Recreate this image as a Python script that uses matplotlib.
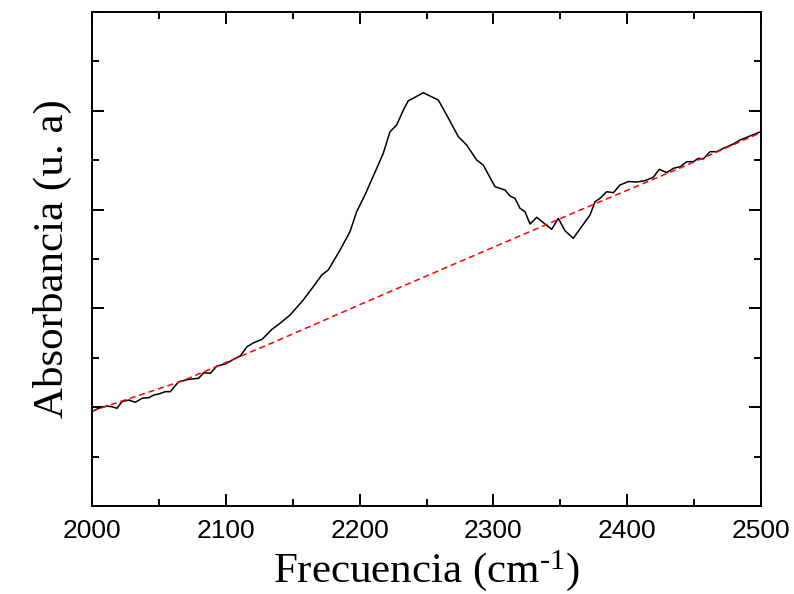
import numpy as np
import matplotlib
matplotlib.use('Agg')
import matplotlib.pyplot as plt
from matplotlib.ticker import MultipleLocator, NullFormatter

plt.rcParams['mathtext.fontset'] = 'custom'
plt.rcParams['mathtext.rm'] = 'Liberation Serif'
plt.rcParams['mathtext.default'] = 'regular'

# spectrum (x in cm-1, y in arbitrary units)
freq = [2000.0, 2005.0, 2011.2, 2014.9, 2018.7, 2022.4, 2027.4, 2032.4, 2037.4, 2042.4,
        2046.1, 2049.9, 2054.8, 2058.5, 2064.8, 2072.3, 2079.7, 2083.5, 2088.4, 2093.4,
        2099.6, 2107.1, 2110.8, 2115.8, 2120.9, 2127.1, 2134.5, 2140.5, 2148.0, 2157.9,
        2165.4, 2171.7, 2176.6, 2185.4, 2192.8, 2197.8, 2204.0, 2212.8, 2217.7, 2222.7,
        2227.7, 2232.7, 2236.4, 2240.1, 2247.6, 2252.6, 2258.8, 2265.1, 2273.8, 2280.0,
        2287.5, 2292.4, 2301.2, 2308.7, 2312.4, 2316.1, 2319.9, 2323.6, 2327.4, 2332.4,
        2338.6, 2343.6, 2348.5, 2353.5, 2359.7, 2372.2, 2376.0, 2379.7, 2384.7, 2389.7,
        2394.6, 2400.9, 2407.1, 2413.3, 2419.5, 2424.0, 2429.5, 2434.5, 2439.5, 2444.5,
        2449.4, 2453.2, 2456.9, 2461.9, 2466.9, 2471.8, 2479.3, 2484.3, 2491.8, 2496.8,
        2500.0]
absorb = [0.954, 0.989, 1.012, 1.005, 0.989, 1.056, 1.073, 1.050, 1.090, 1.096,
          1.123, 1.134, 1.157, 1.157, 1.258, 1.282, 1.293, 1.349, 1.343, 1.417,
          1.437, 1.495, 1.518, 1.612, 1.653, 1.687, 1.788, 1.849, 1.933, 2.085,
          2.220, 2.338, 2.389, 2.591, 2.776, 2.979, 3.148, 3.418, 3.570, 3.788,
          3.856, 4.008, 4.102, 4.127, 4.183, 4.150, 4.109, 3.957, 3.738, 3.654,
          3.502, 3.451, 3.232, 3.198, 3.138, 3.114, 3.013, 2.979, 2.854, 2.922,
          2.854, 2.801, 2.912, 2.786, 2.710, 2.945, 3.080, 3.114, 3.181, 3.171,
          3.249, 3.284, 3.279, 3.293, 3.327, 3.408, 3.374, 3.418, 3.434, 3.485,
          3.485, 3.519, 3.512, 3.586, 3.586, 3.620, 3.664, 3.704, 3.745, 3.772,
          3.789]

# baseline (red dashed)
base_x = [2000.0, 2067.3, 2134.5, 2215.2, 2290.0, 2368.5, 2439.5, 2500.0]
base_y = [0.962, 1.265, 1.650, 2.126, 2.561, 3.016, 3.421, 3.78]

fig = plt.figure(figsize=(7.94, 5.94), dpi=100)
ax = fig.add_axes([92/794, 88/594, 669/794, 494/594])

ax.plot(freq, absorb, color='black', linewidth=1.1)
ax.plot(base_x, base_y, color='red', linewidth=1.1, dashes=(4, 2.5))

ax.set_xlim(2000, 2500)
ax.set_ylim(0, 5)
ax.xaxis.set_major_locator(MultipleLocator(100))
ax.xaxis.set_minor_locator(MultipleLocator(50))
ax.yaxis.set_major_locator(MultipleLocator(1))
ax.yaxis.set_minor_locator(MultipleLocator(0.5))
ax.yaxis.set_major_formatter(NullFormatter())

for s in ax.spines.values():
    s.set_linewidth(1.4)
ax.tick_params(which='both', direction='in', top=True, right=True, width=1.4)
ax.tick_params(which='major', length=8.5)
ax.tick_params(which='minor', length=5)
ax.tick_params(axis='x', which='major', pad=9, labelsize=19)
for lab in ax.get_xticklabels():
    lab.set_family('Liberation Sans')

ax.set_xlabel('Frecuencia (cm$^{\\text{-1}}$)', family='Liberation Serif', fontsize=31, labelpad=4)
ax.set_ylabel('Absorbancia (u. a)', family='Liberation Serif', fontsize=31, labelpad=11)

fig.savefig('out.png', dpi=100)
